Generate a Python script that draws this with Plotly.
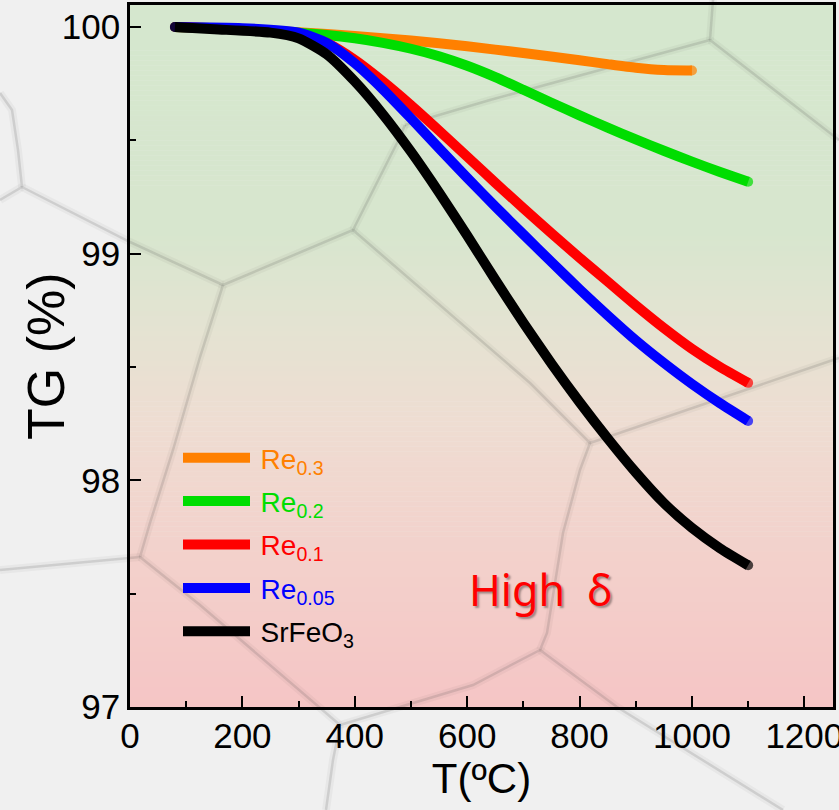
import plotly.graph_objects as go

# ---- TGA curves: temperature (°C) and retained mass (%) ----
t_re03 = [80, 200, 300, 400, 500, 600, 700, 800, 850, 900, 950, 1000]
tg_re03 = [100.0, 99.99, 99.977, 99.96, 99.94, 99.915, 99.885, 99.853, 99.836, 99.82,
           99.81, 99.808]

t_re02 = [80, 200, 300, 350, 400, 450, 500, 550, 600, 650, 700, 750, 800, 850, 900, 950,
          1000, 1050, 1100]
tg_re02 = [100.0, 99.99, 99.975, 99.965, 99.95, 99.93, 99.904, 99.871, 99.829, 99.779,
           99.723, 99.666, 99.61, 99.556, 99.504, 99.454, 99.406, 99.36, 99.317]

t_re01 = [80, 200, 300, 350, 400, 450, 500, 550, 600, 650, 700, 750, 800, 850, 900, 950,
          1000, 1050, 1100]
tg_re01 = [100.0, 99.99, 99.97, 99.93, 99.855, 99.76, 99.655, 99.543, 99.428, 99.313,
           99.20, 99.09, 98.982, 98.877, 98.772, 98.672, 98.58, 98.50, 98.43]

t_re005 = [80, 200, 300, 350, 400, 450, 500, 550, 600, 650, 700, 750, 800, 850, 900, 950,
           1000, 1050, 1100]
tg_re005 = [100.0, 99.995, 99.975, 99.93, 99.84, 99.725, 99.597, 99.465, 99.335, 99.208,
            99.085, 98.963, 98.843, 98.728, 98.618, 98.518, 98.425, 98.34, 98.262]

t_sfo = [80, 150, 250, 300, 350, 400, 450, 500, 550, 600, 650, 700, 750, 800, 850, 900,
         950, 1000, 1050, 1100]
tg_sfo = [100.0, 99.99, 99.975, 99.95, 99.88, 99.76, 99.615, 99.45, 99.27, 99.08, 98.885,
          98.695, 98.515, 98.345, 98.185, 98.035, 97.90, 97.79, 97.70, 97.625]

labels = ["Re<sub>0.3</sub>", "Re<sub>0.2</sub>", "Re<sub>0.1</sub>", "Re<sub>0.05</sub>",
          "SrFeO<sub>3</sub>"]
colors = ["#ff8000", "#00dd00", "#ff0000", "#0000ff", "#000000"]
temps = [t_re03, t_re02, t_re01, t_re005, t_sfo]
masses = [tg_re03, tg_re02, tg_re01, tg_re005, tg_sfo]

x_range = [0, 1251]
y_range = [97, 100.097]

# ---- canvas geometry (px) ----
W, H = 839, 810
ML, MR, MT, MB = 130, 6, 5, 103
PW, PH = W - ML - MR, H - MT - MB


def px2paper(px, py):
    return (px - ML) / PW, (H - MB - py) / PH


# vertical colour wash for the plotting area: green at top, rose at bottom
wash_stops = [
    (0.00, (213, 231, 206)),
    (0.32, (215, 230, 206)),
    (0.46, (228, 227, 210)),
    (0.59, (238, 221, 210)),
    (0.73, (242, 212, 205)),
    (1.00, (245, 197, 197)),
]


def wash_color(f):
    for (f0, c0), (f1, c1) in zip(wash_stops[:-1], wash_stops[1:]):
        if f0 <= f <= f1:
            t = (f - f0) / (f1 - f0)
            return "rgb(%d,%d,%d)" % tuple(round(a + (b - a) * t) for a, b in zip(c0, c1))
    return "rgb(%d,%d,%d)" % wash_stops[-1][1]


shapes = []
N_BANDS = 140
for i in range(N_BANDS):
    f_top = i / N_BANDS  # distance from top
    shapes.append(dict(
        type="rect", xref="paper", yref="paper", layer="below",
        x0=0, x1=1, y0=1 - (i + 1) / N_BANDS - 0.0005, y1=1 - i / N_BANDS,
        fillcolor=wash_color(f_top + 0.5 / N_BANDS), line=dict(width=0),
    ))

# faint cellular texture in the backdrop (polylines in px)
cell_edges = [
    [(0, 93), (12, 110), (18, 150), (22, 187)],
    [(0, 200), (22, 187)],
    [(22, 187), (130, 242), (223, 285)],
    [(223, 285), (353, 230)],
    [(223, 285), (200, 357), (173, 450), (150, 523), (140, 557)],
    [(0, 570), (140, 557)],
    [(140, 557), (200, 605), (340, 725)],
    [(340, 725), (473, 685), (540, 650)],
    [(340, 725), (333, 760), (326, 810)],
    [(540, 650), (547, 633), (563, 533), (580, 470), (590, 443)],
    [(540, 650), (617, 707), (783, 810)],
    [(590, 443), (833, 360), (839, 358)],
    [(590, 443), (530, 383), (353, 230)],
    [(353, 230), (397, 143), (405, 125)],
    [(405, 125), (490, 100), (710, 40)],
    [(710, 40), (713, 0)],
    [(710, 40), (839, 140)],
]
for edge in cell_edges:
    pts = [px2paper(*p) for p in edge]
    path = "M " + " L ".join("%.5f,%.5f" % p for p in pts)
    shapes.append(dict(type="path", path=path, xref="paper", yref="paper", layer="below",
                       line=dict(color="rgba(0,0,0,0.035)", width=8)))
    shapes.append(dict(type="path", path=path, xref="paper", yref="paper", layer="below",
                       line=dict(color="rgba(60,60,60,0.14)", width=2.5)))

fig = go.Figure()
for i, (lab, col, t, m) in enumerate(zip(labels, colors, temps, masses)):
    # round caps at both ends of each curve
    cap_sizes = [10] + [0] * (len(t) - 2) + [10]
    fig.add_trace(go.Scatter(
        x=t, y=m, mode="lines+markers",
        name='<span style="color:%s">\u2009%s</span>' % (col, lab),
        line=dict(color=col, width=10, shape="spline", smoothing=0.6),
        marker=dict(color=col, size=cap_sizes, symbol="circle", line=dict(width=0)),
        legendgroup="g%d" % i,
    ))

axis_font = dict(family="Liberation Sans, Arial, sans-serif", size=35, color="black")

fig.update_xaxes(
    range=x_range, dtick=200, tick0=0,
    ticks="inside", ticklen=11, tickwidth=2, tickcolor="black",
    minor=dict(ticks="inside", dtick=100, ticklen=6, tickwidth=2, tickcolor="black"),
    showline=True, linewidth=2.5, linecolor="black", mirror=True,
    showgrid=False, zeroline=False, tickfont=axis_font, ticklabeloverflow="allow",
    ticklabelstandoff=-4,
    title=dict(text="T(ºC)", font=dict(family="Liberation Sans, Arial, sans-serif",
                                       size=42, color="black"), standoff=4),
)
fig.update_yaxes(
    range=y_range, dtick=1, tick0=97,
    ticks="inside", ticklen=11, tickwidth=2, tickcolor="black",
    minor=dict(ticks="inside", dtick=0.5, ticklen=6, tickwidth=2, tickcolor="black"),
    showline=True, linewidth=2.5, linecolor="black", mirror=True,
    showgrid=False, zeroline=False, tickfont=axis_font, ticklabeloverflow="allow",
)

ytitle_x, _ = px2paper(46, 0)
fig.add_annotation(
    text="TG (%)", textangle=-90, xref="paper", yref="paper",
    x=ytitle_x, y=0.5, xanchor="center", yanchor="middle", showarrow=False,
    font=dict(family="Liberation Sans, Arial, sans-serif", size=52, color="black"),
)
fig.add_annotation(
    text="High\u00a0\u00a0δ", xref="x", yref="y", x=731, y=97.52,
    xanchor="center", yanchor="middle", showarrow=False,
    font=dict(family="Noto Sans, sans-serif", size=43, color="#ff0000",
              shadow="2px 2px 2px rgba(0,0,0,0.35)"),
)

lx, ly = px2paper(178, 433)
fig.update_layout(
    width=W, height=H,
    margin=dict(l=ML, r=MR, t=MT, b=MB, autoexpand=False),
    paper_bgcolor="#f0f0f0", plot_bgcolor="rgba(0,0,0,0)",
    shapes=shapes,
    showlegend=True,
    legend=dict(
        x=lx, y=ly, xanchor="left", yanchor="top",
        bgcolor="rgba(0,0,0,0)", borderwidth=0,
        font=dict(family="Liberation Sans, Arial, sans-serif", size=28, color="black"),
        itemwidth=67, traceorder="grouped", tracegroupgap=4,
    ),
)

fig.write_html("out.html")
